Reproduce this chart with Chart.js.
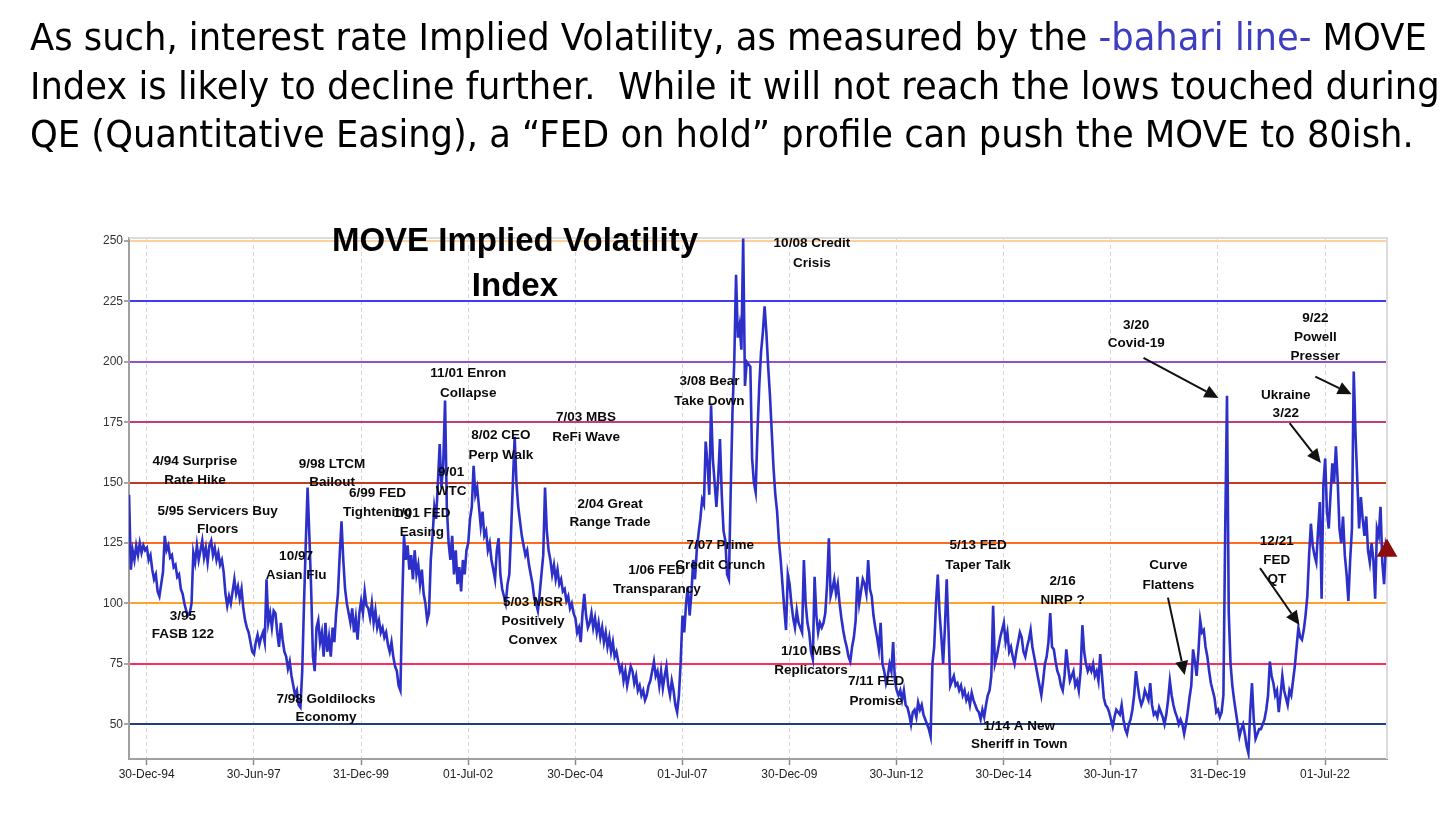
<!DOCTYPE html>
<html>
<head>
<meta charset="utf-8">
<script src="https://cdn.jsdelivr.net/npm/chart.js@4.4.1/dist/chart.umd.min.js"></script>
<style>
  html, body { margin: 0; padding: 0; background: #fff; width: 1450px; height: 815px; overflow: hidden; }
  #wrap { position: relative; width: 1450px; height: 815px; }
  #chart { position: absolute; left: 0; top: 0; }
  .hl { position: absolute; left: 30px; top: 0; white-space: pre; font-family: "DejaVu Sans", Verdana, sans-serif;
        font-size: 37px; color: #000; transform-origin: 0 0; }
  .hl .b { color: #3d3dc0; }
</style>
</head>
<body>
<div id="wrap">
  <canvas id="chart" width="1450" height="815"></canvas>
  <div class="hl" id="h1">As such, interest rate Implied Volatility, as measured by the <span class="b">-bahari line-</span> MOVE</div>
  <div class="hl" id="h2">Index is likely to decline further.  While it will not reach the lows touched during</div>
  <div class="hl" id="h3">QE (Quantitative Easing), a “FED on hold” profile can push the MOVE to 80ish.</div>
</div>
<script>
// ---------------- DATA ----------------
// MOVE index, two readings per month (1st half, 2nd half). 1994 starts in August.
const m1994 = [145,114, 122,118, 124,120, 125,121, 124,122];
const m1995 = [123,118, 120,114, 110,112, 105,103, 108,113, 128,122, 124,119, 120,115, 116,111, 112,106, 104,100, 97,95];
const m1996 = [96,100, 121,117, 124,118, 122,126, 119,123, 117,124, 126,120, 123,118, 121,116, 118,113, 104,99, 103,100];
const m1997 = [105,110, 104,107, 102,106, 98,93, 90,88, 84,80, 79,84, 87,83, 86,88, 84,110, 92,96, 90,97];
const m1998 = [96,88, 82,92, 85,80, 78,73, 76,70, 66,62, 64,58, 57,72, 100,125, 148,128, 106,78, 72,90];
const m1999 = [93,84, 88,78, 92,80, 86,78, 90,84, 96,104, 120,134, 118,106, 100,96, 92,98, 88,94, 85,96];
const m2000 = [101,96, 105,99, 98,94, 100,92, 97,90, 93,88, 90,86, 88,83, 80,84, 78,74, 72,66, 64,100];
const m2001 = [128,118, 124,114, 120,110, 122,112, 116,108, 114,104, 100,93, 96,118, 128,140, 135,150, 166,148, 158,184];
const m2002 = [140,125, 118,128, 112,122, 108,115, 105,118, 112,122, 125,135, 140,157, 145,148, 140,132, 138,128, 130,122];
const m2003 = [125,118, 114,110, 122,127, 112,106, 103,100, 108,112, 130,150, 169,150, 140,134, 128,124, 120,122, 116,112];
const m2004 = [108,102, 100,97, 104,112, 120,148, 130,122, 118,112, 116,110, 114,108, 110,105, 106,101, 103,98, 100,96];
const m2005 = [94,88, 90,84, 96,104, 95,90, 92,96, 90,94, 88,92, 86,90, 84,88, 82,86, 80,84, 78,80];
const m2006 = [76,72, 74,68, 72,66, 70,74, 72,67, 70,64, 66,62, 64,60, 62,66, 68,72, 76,70, 72,66];
const m2007 = [72,65, 70,74, 66,62, 68,64, 58,55, 62,76, 95,88, 100,107, 95,104, 118,110, 122,129, 135,143];
const m2008 = [141,167, 158,145, 182,160, 150,140, 152,168, 145,130, 126,112, 110,146, 179,200, 236,210, 215,205, 251,190];
const m2009 = [200,199, 198,160, 150,146, 171,190, 204,212, 223,212, 198,186, 171,156, 145,138, 126,118, 108,98, 89,112];
const m2010 = [108,100, 94,90, 97,92, 90,88, 118,100, 92,88, 80,77, 111,95, 88,92, 90,92, 96,108, 127,103];
const m2011 = [106,110, 104,108, 100,94, 89,85, 82,78, 76,82, 86,93, 111,100, 105,110, 108,104, 118,106, 103,95];
const m2012 = [90,86, 81,92, 75,72, 67,70, 75,72, 84,68, 64,62, 64,60, 64,58, 57,54, 50,55, 56,53];
const m2013 = [59,56, 58,54, 52,50, 48,45, 75,82, 100,112, 96,86, 75,90, 110,89, 66,68, 70,66, 67,64];
const m2014 = [66,62, 64,60, 62,58, 63,60, 58,56, 55,52, 56,53, 58,62, 64,70, 99,75, 78,82, 86,89];
const m2015 = [92,84, 88,80, 82,78, 75,80, 84,88, 86,80, 78,82, 85,89, 82,78, 74,70, 66,62, 68,75];
const m2016 = [78,84, 96,82, 81,76, 72,70, 66,64, 70,81, 74,68, 70,72, 66,68, 64,72, 91,80, 75,72];
const m2017 = [74,72, 75,70, 72,68, 79,70, 61,58, 57,55, 52,49, 53,56, 55,54, 58,52, 48,46, 50,52];
const m2018 = [56,62, 72,66, 61,58, 60,64, 62,60, 67,58, 54,55, 53,57, 55,53, 50,54, 60,68, 62,58];
const m2019 = [55,53, 50,52, 50,46, 50,55, 61,66, 81,76, 70,80, 93,88, 89,82, 78,72, 67,64, 61,55];
const m2020 = [56,53, 55,62, 130,186, 96,75, 66,60, 55,50, 45,48, 50,46, 41,38, 55,67, 52,44, 46,48];
const m2021 = [48,50, 52,56, 62,76, 70,67, 62,64, 55,62, 70,64, 61,58, 64,62, 68,74, 82,90, 86,85];
const m2022 = [89,95, 103,120, 133,124, 120,117, 130,142, 102,149, 160,138, 131,145, 158,150, 165,151, 131,125, 136,120];
const m2023 = [112,101, 118,131, 196,170, 151,131, 144,135, 128,136, 122,117, 125,118, 102,131, 128,140, 117,108, 124,121];

const moveYears = [1994,1995,1996,1997,1998,1999,2000,2001,2002,2003,2004,2005,2006,2007,2008,
                   2009,2010,2011,2012,2013,2014,2015,2016,2017,2018,2019,2020,2021,2022,2023];
const moveByYear = [m1994,m1995,m1996,m1997,m1998,m1999,m2000,m2001,m2002,m2003,m2004,m2005,m2006,m2007,m2008,
                    m2009,m2010,m2011,m2012,m2013,m2014,m2015,m2016,m2017,m2018,m2019,m2020,m2021,m2022,m2023];
const firstMonth = 8;            // August 1994
const lastReading = 121.8;       // red triangle marker (latest level)
const lastReadingDate = 2023.943;

// x-axis tick dates (decimal years) and their labels
const xTickValues = [1994.995, 1997.493, 1999.997, 2002.496, 2004.995, 2007.496,
                     2009.995, 2012.493, 2014.995, 2017.493, 2019.997, 2022.496];
const xTickLabels = ['30-Dec-94','30-Jun-97','31-Dec-99','01-Jul-02','30-Dec-04','01-Jul-07',
                     '30-Dec-09','30-Jun-12','30-Dec-14','30-Jun-17','31-Dec-19','01-Jul-22'];
const yTickValues = [50, 75, 100, 125, 150, 175, 200, 225, 250];

// ---------------- STYLES ----------------
const levelColors = ['#1f3f80', '#ff2d5c', '#ffa32e', '#ff6a1c', '#c23a22', '#c23c7c', '#9152c6', '#3c3cf5', '#ffcfa0'];
const lineColor = '#2c30c8';

// annotations: text lines anchored in data units (x = year, y = index level)
const notes = [
  { lines: ['4/94 Surprise', 'Rate Hike'], x: 1996.12, y: 159.0, gap: 19 },
  { lines: ['5/95 Servicers Buy', 'Floors'], x: 1996.65, y: 138.3, gap: 18.5 },
  { lines: ['3/95', 'FASB 122'], x: 1995.84, y: 94.8, gap: 18 },
  { lines: ['10/97', 'Asian Flu'], x: 1998.48, y: 119.7, gap: 19.7 },
  { lines: ['7/98 Goldilocks', 'Economy'], x: 1999.18, y: 60.35, gap: 18.4 },
  { lines: ['9/98 LTCM', 'Bailout'], x: 1999.32, y: 157.8, gap: 18.3 },
  { lines: ['6/99 FED', 'Tightening'], x: 2000.38, y: 145.4, gap: 19 },
  { lines: ['1/01 FED', 'Easing'], x: 2001.42, y: 137.5, gap: 19 },
  { lines: ['9/01', 'WTC'], x: 2002.1, y: 154.1, gap: 18.5 },
  { lines: ['11/01 Enron', 'Collapse'], x: 2002.5, y: 195.3, gap: 20 },
  { lines: ['8/02 CEO', 'Perp Walk'], x: 2003.26, y: 169.8, gap: 20 },
  { lines: ['7/03 MBS', 'ReFi Wave'], x: 2005.25, y: 177.0, gap: 19.5 },
  { lines: ['2/04 Great', 'Range Trade'], x: 2005.81, y: 141.1, gap: 18.5 },
  { lines: ['5/03 MSR', 'Positively', 'Convex'], x: 2004.01, y: 100.5, gap: 19 },
  { lines: ['1/06 FED', 'Transparancy'], x: 2006.9, y: 113.6, gap: 18.5 },
  { lines: ['7/07 Prime', 'Credit Crunch'], x: 2008.38, y: 124.2, gap: 20 },
  { lines: ['3/08 Bear', 'Take Down'], x: 2008.13, y: 191.9, gap: 20 },
  { lines: ['10/08 Credit', 'Crisis'], x: 2010.52, y: 249.2, gap: 20 },
  { lines: ['1/10 MBS', 'Replicators'], x: 2010.5, y: 80.1, gap: 19 },
  { lines: ['7/11 FED', 'Promise'], x: 2012.02, y: 67.6, gap: 19.5 },
  { lines: ['5/13 FED', 'Taper Talk'], x: 2014.4, y: 124.2, gap: 20 },
  { lines: ['2/16', 'NIRP ?'], x: 2016.37, y: 109.0, gap: 18.5 },
  { lines: ['1/14 A New', 'Sheriff in Town'], x: 2015.36, y: 49.3, gap: 18.3 },
  { lines: ['Curve', 'Flattens'], x: 2018.84, y: 115.7, gap: 20 },
  { lines: ['12/21', 'FED', 'QT'], x: 2021.37, y: 125.6, gap: 19 },
  { lines: ['3/20', 'Covid-19'], x: 2018.09, y: 215.3, gap: 18.3 },
  { lines: ['Ukraine', '3/22'], x: 2021.58, y: 186.1, gap: 18.3 },
  { lines: ['9/22', 'Powell', 'Presser'], x: 2022.27, y: 218.1, gap: 19.2 }
];
const arrows = [
  { from: [2018.26, 201.6], to: [2020.01, 185.0] },
  { from: [2021.67, 174.6], to: [2022.40, 158.1] },
  { from: [2022.27, 193.9], to: [2023.12, 186.6] },
  { from: [2018.83, 102.4], to: [2019.22, 70.4] },
  { from: [2020.98, 114.6], to: [2021.90, 91.1] }
];
const chartTitle = { lines: ['MOVE Implied Volatility', 'Index'], x: 2003.59, y: 249.7, gap: 45 };

// ---------------- BUILD POINTS ----------------
const movePoints = [];
moveYears.forEach((yr, k) => {
  const startM = (k === 0) ? firstMonth : 1;
  moveByYear[k].forEach((v, i) => {
    movePoints.push({ x: yr + (startM - 1 + i * 0.5) / 12, y: v });
  });
});

// ---------------- PLUGIN: notes, arrows, title, frame ----------------
const overlay = {
  id: 'overlay',
  beforeDatasetsDraw(chart) {
    const { ctx, chartArea: a } = chart;
    ctx.save();
    ctx.strokeStyle = '#dcdcdc';
    ctx.lineWidth = 2;
    ctx.beginPath();
    ctx.moveTo(a.left, a.top); ctx.lineTo(a.right, a.top); ctx.lineTo(a.right, a.bottom);
    ctx.stroke();
    ctx.restore();
  },
  afterDatasetsDraw(chart) {
    const { ctx, scales: { x, y } } = chart;
    ctx.save();
    ctx.fillStyle = '#000';
    ctx.textAlign = 'center';
    ctx.textBaseline = 'middle';
    ctx.font = 'bold 33px "Liberation Sans", Arial, sans-serif';
    chartTitle.lines.forEach((t, i) => {
      ctx.fillText(t, x.getPixelForValue(chartTitle.x), y.getPixelForValue(chartTitle.y) + i * chartTitle.gap);
    });
    ctx.font = 'bold 13.5px "Liberation Sans", Arial, sans-serif';
    ctx.fillStyle = '#0a0a0a';
    notes.forEach(n => {
      const px = x.getPixelForValue(n.x), py = y.getPixelForValue(n.y);
      n.lines.forEach((t, i) => ctx.fillText(t, px, py + i * n.gap));
    });
    ctx.strokeStyle = '#111';
    ctx.fillStyle = '#111';
    ctx.lineWidth = 2;
    arrows.forEach(ar => {
      const x1 = x.getPixelForValue(ar.from[0]), y1 = y.getPixelForValue(ar.from[1]);
      const x2 = x.getPixelForValue(ar.to[0]), y2 = y.getPixelForValue(ar.to[1]);
      const ang = Math.atan2(y2 - y1, x2 - x1);
      const L = 14, W = 6.5;
      const bx = x2 - L * Math.cos(ang), by = y2 - L * Math.sin(ang);
      ctx.beginPath(); ctx.moveTo(x1, y1); ctx.lineTo(bx, by); ctx.stroke();
      ctx.beginPath();
      ctx.moveTo(x2, y2);
      ctx.lineTo(bx + W * Math.sin(ang), by - W * Math.cos(ang));
      ctx.lineTo(bx - W * Math.sin(ang), by + W * Math.cos(ang));
      ctx.closePath(); ctx.fill();
    });
    ctx.restore();
  }
};

const font12 = { family: '"Liberation Sans", Arial, sans-serif', size: 12 };

new Chart(document.getElementById('chart').getContext('2d'), {
  type: 'line',
  data: {
    datasets: [
      { label: 'MOVE', data: movePoints, borderColor: lineColor, borderWidth: 2.6, pointRadius: 0,
        tension: 0, fill: false, order: 2 },
      { label: 'Latest', type: 'scatter', data: [{ x: lastReadingDate, y: lastReading }], pointStyle: 'triangle',
        pointRadius: 12, backgroundColor: '#8c0b0b', borderColor: '#8c0b0b', borderWidth: 0, clip: false, order: 1 }
    ]
  },
  options: {
    responsive: false, animation: false, devicePixelRatio: 1,
    layout: { padding: { top: 238, right: 63, left: 0, bottom: 0 } },
    plugins: { legend: { display: false }, tooltip: { enabled: false }, title: { display: false } },
    scales: {
      x: {
        type: 'linear', min: 1994.582, max: 2023.943,
        afterBuildTicks: s => { s.ticks = xTickValues.map(v => ({ value: v })); },
        afterFit: s => { s.height = 56; },
        ticks: { callback: (v, i) => xTickLabels[i], font: font12, color: '#222', maxRotation: 0, autoSkip: false, padding: 2 },
        grid: { color: '#d6d6d6', lineWidth: 1, tickLength: 6, tickColor: '#8a8a8a', tickWidth: 1.5 },
        border: { color: '#a0a0a0', width: 2, dash: [4, 3] }
      },
      y: {
        min: 35.63, max: 251.24,
        afterBuildTicks: s => { s.ticks = yTickValues.map(v => ({ value: v })); },
        afterFit: s => { s.width = 129; },
        ticks: { font: font12, color: '#333', padding: 1 },
        grid: { color: c => levelColors[c.index] || '#ccc', lineWidth: 2, tickLength: 5, tickColor: '#8a8a8a', tickWidth: 1.5 },
        border: { color: '#a0a0a0', width: 2 }
      }
    }
  },
  plugins: [overlay]
});

// ---------------- HEADER LAYOUT ----------------
(function () {
  const ids = ['h1', 'h2', 'h3'];
  const widths = [1395, 1410, 1385];
  const baselines = [50, 98.5, 147.3];
  let ratio = 0;
  ids.forEach((id, i) => {
    const el = document.getElementById(id);
    ratio += widths[i] / el.getBoundingClientRect().width;
  });
  ratio /= ids.length;
  ids.forEach((id, i) => {
    const el = document.getElementById(id);
    const probe = document.createElement('span');
    probe.style.display = 'inline-block'; probe.style.width = '0'; probe.style.height = '0';
    el.appendChild(probe);
    const off = probe.offsetTop;
    el.removeChild(probe);
    el.style.top = (baselines[i] - off) + 'px';
    el.style.transform = 'scaleX(' + ratio + ')';
  });
})();
</script>
</body>
</html>
